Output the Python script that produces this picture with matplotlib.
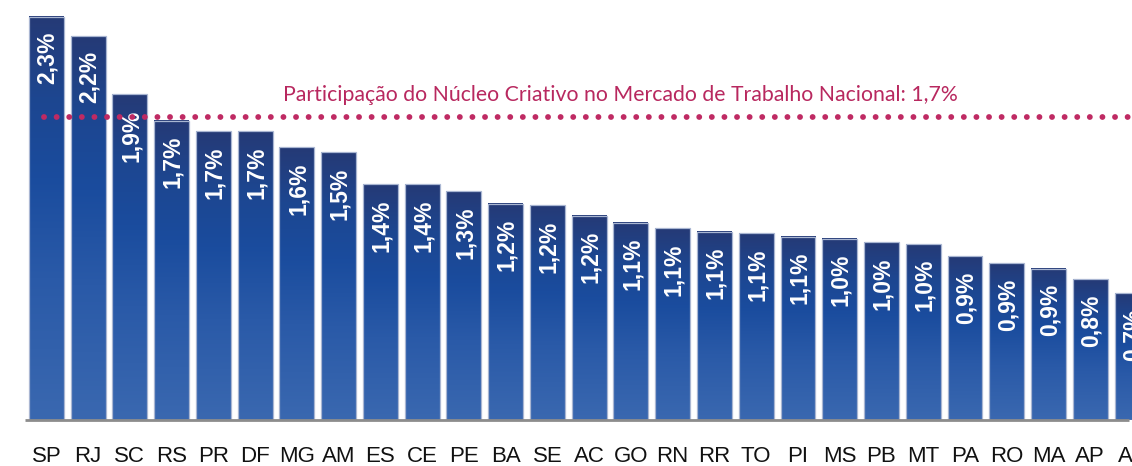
import matplotlib.pyplot as plt
import numpy as np
from matplotlib.colors import LinearSegmentedColormap

estados = ['SP', 'RJ', 'SC', 'RS', 'PR', 'DF', 'MG', 'AM', 'ES', 'CE', 'PE', 'BA', 'SE',
           'AC', 'GO', 'RN', 'RR', 'TO', 'PI', 'MS', 'PB', 'MT', 'PA', 'RO', 'MA', 'AP', 'AL']
participacao = [2.29, 2.18, 1.85, 1.70, 1.64, 1.64, 1.55, 1.52, 1.34, 1.34, 1.30, 1.23, 1.22,
                1.16, 1.12, 1.09, 1.07, 1.06, 1.04, 1.03, 1.01, 1.00, 0.93, 0.89, 0.86, 0.80, 0.72]
rotulos = ['2,3%', '2,2%', '1,9%', '1,7%', '1,7%', '1,7%', '1,6%', '1,5%', '1,4%', '1,4%',
           '1,3%', '1,2%', '1,2%', '1,2%', '1,1%', '1,1%', '1,1%', '1,1%', '1,1%', '1,0%',
           '1,0%', '1,0%', '0,9%', '0,9%', '0,9%', '0,8%', '0,7%']
media_nacional = 1.72
texto_media = 'Participação do Núcleo Criativo no Mercado de Trabalho Nacional: 1,7%'

W, H = 1132, 466
fig = plt.figure(figsize=(W / 100, H / 100), dpi=100)
ax = fig.add_axes([0, 46 / H, 1, 420 / H])

pitch = 41.85
x0 = -46.5 / pitch
ax.set_xlim(x0, x0 + W / pitch)
ax.set_ylim(0, 420 / 176)

grad = LinearSegmentedColormap.from_list(
    'g', [(0.0, '#3a68b0'), (0.35, '#2a5aa8'), (0.6, '#1a4c9e'), (0.8, '#1d4690'),
          (1.0, '#253a76')])
img = np.linspace(0, 1, 256).reshape(-1, 1)

bw = 35 / pitch
for i, v in enumerate(participacao):
    ax.imshow(img, cmap=grad, origin='lower', aspect='auto',
              extent=(i - bw / 2, i + bw / 2, 0, v), zorder=2)
    ax.add_patch(plt.Rectangle((i - bw / 2, 0), bw, v, fill=False,
                               edgecolor='#a9b6d2', lw=0.9, zorder=3))
    ax.text(i + 0.03, v - 15 / 176, rotulos[i], rotation=90, ha='center', va='top',
            color='white', fontsize=16.5, fontweight='bold', family='Liberation Sans',
            zorder=4, clip_on=True)

ax.set_xlim(x0, x0 + W / pitch)
ax.set_ylim(0, 420 / 176)

# linha pontilhada da média nacional
ax.plot([x0 + 44 / pitch, x0 + W / pitch], [media_nacional, media_nacional],
        color='#bf2a63', lw=4.2, linestyle=(0, (0.01, 2.15)), dash_capstyle='round',
        zorder=5)
fig.text(958 / W, 1 - 101 / H, texto_media, ha='right', va='baseline',
         color='#b8285f', fontsize=15.3, family='Lato')

# linha base
ax.plot([x0 + 25 / pitch, x0 + W / pitch], [0, 0], color='#8c8c8c', lw=2,
        zorder=6, clip_on=False, solid_capstyle='butt')

for s in ax.spines.values():
    s.set_visible(False)
ax.set_yticks([])
ax.set_xticks(range(len(estados)))
ax.set_xticklabels(estados, fontsize=16, family='Liberation Sans', color='#111111')
ax.tick_params(axis='x', length=0, pad=19)

fig.savefig('out.png', dpi=100)
